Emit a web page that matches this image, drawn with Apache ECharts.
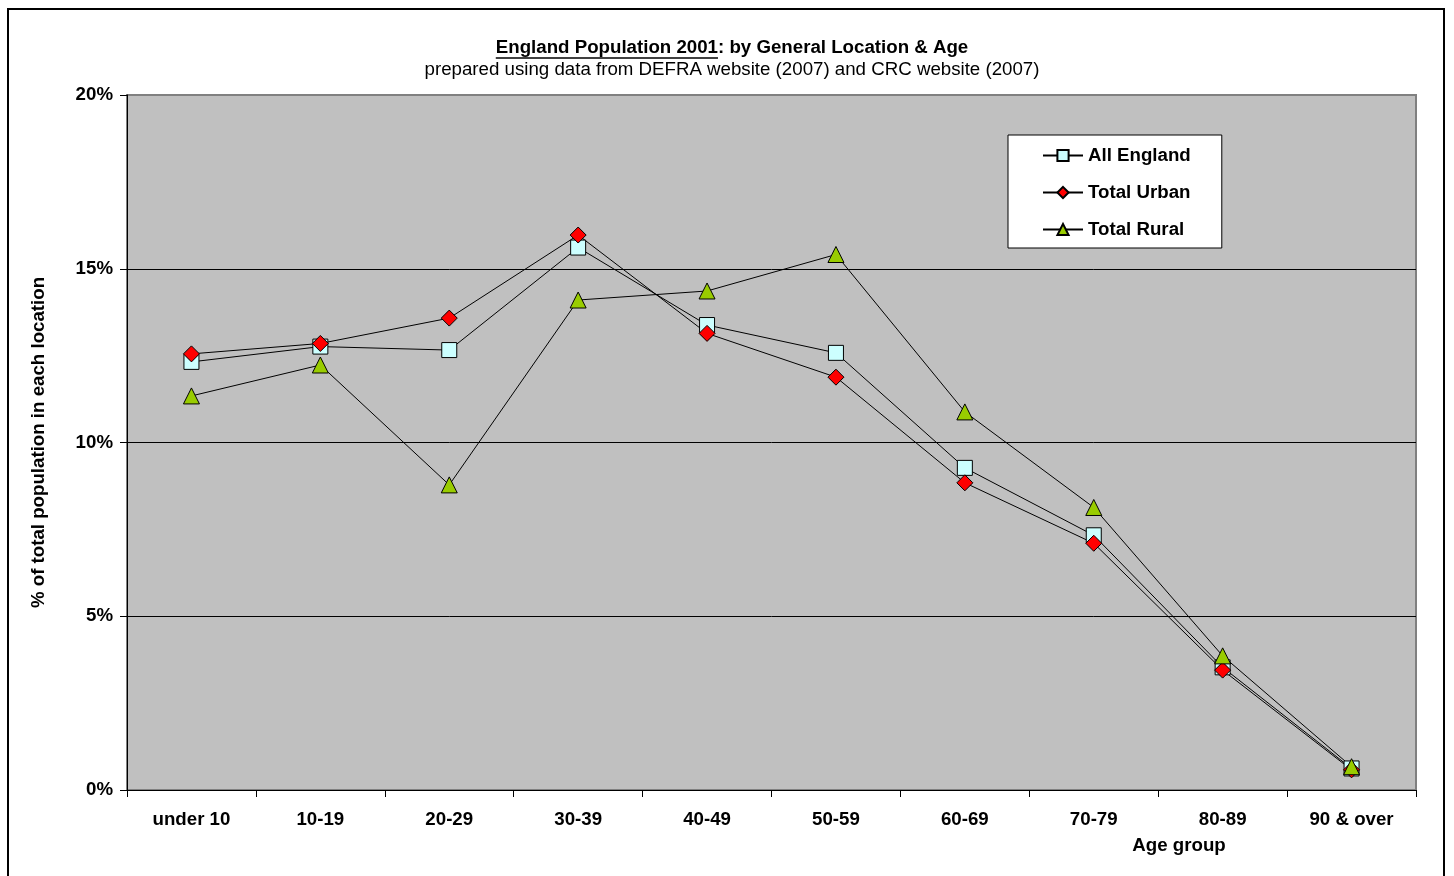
<!DOCTYPE html>
<html><head><meta charset="utf-8">
<script src="https://cdn.jsdelivr.net/npm/echarts@6/dist/echarts.min.js"></script>
<style>html,body{margin:0;padding:0;background:#fff}#c{width:1454px;height:876px}</style>
</head><body><div id="c"></div>
<script>
const categories = ['under 10','10-19','20-29','30-39','40-49','50-59','60-69','70-79','80-89','90 & over'];
const allEngland = [12.32,12.76,12.66,15.61,13.38,12.58,9.27,7.33,3.53,0.62];
const totalUrban = [12.55,12.85,13.58,15.97,13.14,11.88,8.84,7.10,3.45,0.58];
const totalRural = [11.34,12.23,8.78,14.10,14.36,15.41,10.88,8.13,3.86,0.67];
const seriesNames = ['All England','Total Urban','Total Rural'];
const titleMain = 'England Population 2001';
const titleRest = ': by General Location & Age';
const subtitle = 'prepared using data from DEFRA website (2007) and CRC website (2007)';
const yAxisName = '% of total population in each location';
const xAxisName = 'Age group';

const FONT = '"Liberation Sans", Arial, sans-serif';
const FS = 18.7;
const chart = echarts.init(document.getElementById('c'), null, {renderer:'canvas'});

const ctx = document.createElement('canvas').getContext('2d');
ctx.font = 'bold ' + FS + 'px "Liberation Sans", Arial, sans-serif';
const wMain = ctx.measureText(titleMain).width;
const wAll = ctx.measureText(titleMain + titleRest).width;
const titleCx = 732, titleCy = 48;
const ulX0 = titleCx - wAll/2;

const lineBase = {type:'line', lineStyle:{color:'#000', width:1}, showAllSymbol:true, animation:false, z:3};

chart.setOption({
  animation:false,
  textStyle:{fontFamily:FONT},
  grid:{left:127, right:38, top:95, bottom:86, show:true, backgroundColor:'#C0C0C0', borderColor:'#808080', borderWidth:2},
  legend:{
    orient:'vertical', left:1008, top:135,
    backgroundColor:'#fff', borderColor:'#000', borderWidth:1,
    padding:[11,31,9,34],
    itemWidth:40, itemHeight:14, itemGap:18,
    textStyle:{fontFamily:FONT, fontWeight:'bold', fontSize:FS, color:'#000', lineHeight:18},
    data:seriesNames
  },
  xAxis:{
    type:'category', data:categories, boundaryGap:true,
    axisLine:{lineStyle:{color:'#000', width:1}},
    axisTick:{show:true, length:7, alignWithLabel:false, lineStyle:{color:'#000'}},
    axisLabel:{fontFamily:FONT, fontWeight:'bold', fontSize:FS, color:'#000', margin:20, interval:0},
    splitLine:{show:false}
  },
  yAxis:{
    type:'value', min:0, max:20, interval:5,
    name:yAxisName, nameLocation:'middle', nameGap:79, nameRotate:90,
    nameTextStyle:{fontFamily:FONT, fontWeight:'bold', fontSize:FS, color:'#000'},
    axisLine:{show:true, lineStyle:{color:'#000', width:1}},
    axisTick:{show:true, length:7, lineStyle:{color:'#000'}},
    axisLabel:{fontFamily:FONT, fontWeight:'bold', fontSize:FS, color:'#000', margin:14, formatter:'{value}%'},
    splitLine:{show:true, lineStyle:{color:['#000','#000','#000','#000','#808080'], width:1}}
  },
  graphic:[
    {type:'rect', shape:{x:8, y:9, width:1436, height:900}, style:{fill:'none', stroke:'#000', lineWidth:2}, silent:true},
    {type:'text', x:titleCx, y:titleCy, style:{text:titleMain + titleRest, font:'bold ' + FS + 'px ' + FONT, fill:'#000', align:'center', verticalAlign:'middle'}},
    {type:'line', shape:{x1:ulX0, y1:titleCy+10, x2:ulX0+wMain, y2:titleCy+10}, style:{stroke:'#000', lineWidth:1.5}},
    {type:'text', x:titleCx, y:70, style:{text:subtitle, font:FS + 'px ' + FONT, fill:'#000', align:'center', verticalAlign:'middle'}},
    {type:'text', x:1179, y:846, style:{text:xAxisName, font:'bold ' + FS + 'px ' + FONT, fill:'#000', align:'center', verticalAlign:'middle'}}
  ],
  series:[
    Object.assign({}, lineBase, {name:seriesNames[0], data:allEngland, symbol:'rect', symbolSize:15,
      itemStyle:{color:'#CCFFFF', borderColor:'#000', borderWidth:1}}),
    Object.assign({}, lineBase, {name:seriesNames[1], data:totalUrban, symbol:'diamond', symbolSize:16,
      itemStyle:{color:'#FF0000', borderColor:'#000', borderWidth:1}}),
    Object.assign({}, lineBase, {name:seriesNames[2], data:totalRural, symbol:'triangle', symbolSize:16,
      itemStyle:{color:'#99CC00', borderColor:'#000', borderWidth:1}})
  ]
});
</script></body></html>
